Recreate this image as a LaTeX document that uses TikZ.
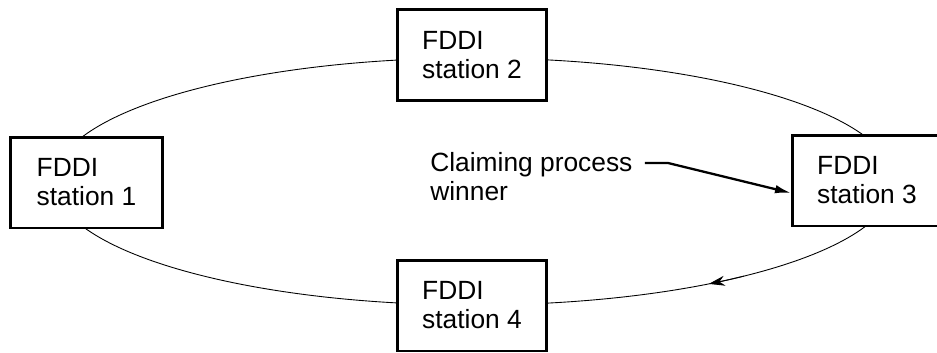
\documentclass[tikz,border=0pt]{standalone}
\usepackage{fontspec}
\setmainfont{Liberation Sans}
\usepackage{tikz}
\usetikzlibrary{arrows.meta, positioning, calc}
\tikzset{
  station/.style={rectangle, draw=black, fill=white, line width=1.7pt,
    minimum width=2.98cm, minimum height=1.82cm, align=left,
    inner sep=0pt, font=\fontsize{15}{16.5}\selectfont},
  note/.style={align=left, inner sep=0pt, font=\fontsize{15}{16.5}\selectfont},
  ring/.style={line width=0.5pt, color=black},
  arrow/.style={-{Latex[length=0.32cm, width=0.17cm]}, line width=1.3pt, color=black},
  ringarrow/.style={-{Stealth[length=0.32cm, width=0.2cm]}, line width=0.5pt, color=black}
}

\begin{document}
\begin{tikzpicture}[x=0.02cm, y=-0.02cm]
  \useasboundingbox (0,0) rectangle (937,352);

  % Token ring
  \draw[ring] (474,181.5) ellipse [x radius=420, y radius=123.5];
  \draw[ringarrow] (474,181.5) ++(50:420 and 123.5)
    arc [start angle=50, end angle=56, x radius=420, y radius=123.5];

  % Stations
  \node[station, minimum width=3.06cm] (st1) at (86.5,182.5) {FDDI\\station 1};
  \node[station] (st2) at (472,55) {FDDI\\station 2};
  \node[station] (st3) at (867,180.5) {FDDI\\station 3};
  \node[station] (st4) at (472,305.5) {FDDI\\station 4};

  % Claiming process winner
  \node[note, anchor=north west] (winner) at (430,152) {Claiming process\\winner};
  \coordinate (bend) at (668,163);
  \draw[arrow] ($(winner.north east)+(0.24cm,-0.22cm)$) -- (bend) -- ([yshift=-0.25cm]st3.west);
\end{tikzpicture}
\end{document}
